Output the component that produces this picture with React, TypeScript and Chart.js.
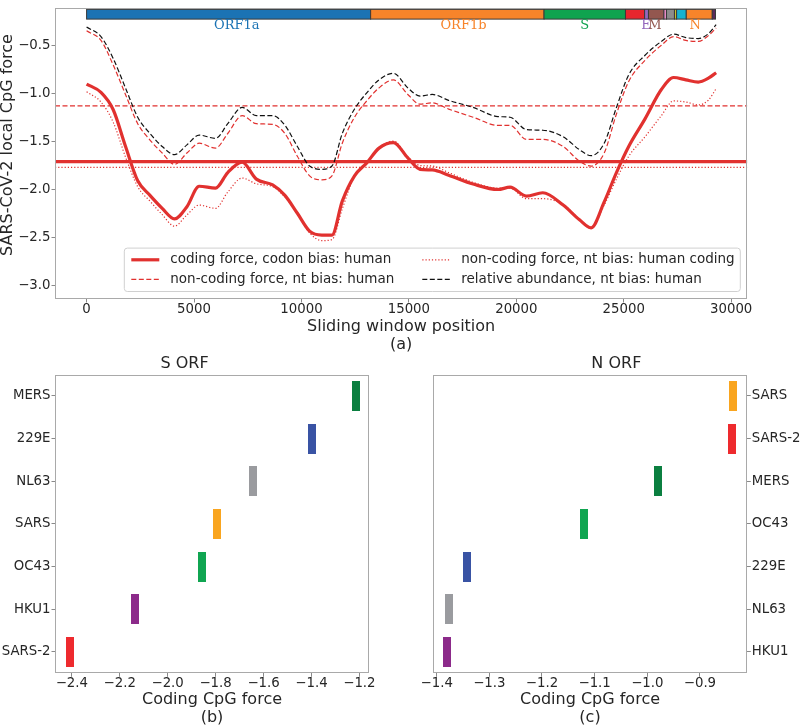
import React, { useEffect, useRef } from 'react';
import { Chart, registerables } from 'chart.js';

Chart.register(...registerables);

const SANS = "'DejaVu Sans', 'Noto Sans', sans-serif";
const SERIF = "'DejaVu Serif', 'Liberation Serif', serif";
const TEXT = '#262626';
const FRAME = '#a9a9a9';
const TICK = '#8a8a8a';
const RED = '#e1312f';

// ---------- panel (a) data ----------
const windowPositions = [
  0, 670, 1240, 1810, 2380, 2950, 3520, 4090, 4670, 5240,
  6000, 6570, 7240, 7900, 8660, 9230, 9810, 10380, 10950, 11420,
  11900, 12470, 13040, 13610, 14280, 14950, 15520, 16090, 16850, 17990,
  19140, 19710, 20470, 21230, 22180, 22940, 23480, 24090, 24660, 25230,
  25990, 26750, 27320, 27890, 28470, 28940, 29300,
];
const codingForce = [
  -0.903, -0.99, -1.17, -1.55, -1.908, -2.06, -2.195, -2.304, -2.178, -1.965,
  -1.985, -1.823, -1.715, -1.891, -1.952, -2.06, -2.246, -2.432, -2.473, -2.473,
  -2.12, -1.857, -1.722, -1.569, -1.512, -1.671, -1.789, -1.796, -1.85, -1.942,
  -1.999, -1.975, -2.067, -2.033, -2.161, -2.314, -2.398, -2.128, -1.823, -1.552,
  -1.265, -0.96, -0.835, -0.859, -0.882, -0.842, -0.785,
];
const nonCodingHuman = [
  -0.35, -0.45, -0.706, -1.011, -1.315, -1.485, -1.62, -1.738, -1.62, -1.518,
  -1.569, -1.417, -1.231, -1.315, -1.322, -1.417, -1.654, -1.857, -1.898, -1.857,
  -1.518, -1.248, -1.078, -0.943, -0.859, -1.011, -1.112, -1.099, -1.163, -1.248,
  -1.332, -1.332, -1.478, -1.478, -1.552, -1.705, -1.755, -1.62, -1.214, -0.876,
  -0.656, -0.5, -0.41, -0.45, -0.46, -0.4, -0.32,
];
const nonCodingHumanCoding = [
  -0.984, -1.09, -1.3, -1.66, -1.97, -2.12, -2.26, -2.38, -2.263, -2.161,
  -2.195, -2.026, -1.88, -1.94, -1.97, -2.077, -2.25, -2.45, -2.53, -2.52,
  -2.2, -1.86, -1.728, -1.569, -1.495, -1.661, -1.749, -1.755, -1.823, -1.925,
  -1.985, -1.985, -2.094, -2.094, -2.155, -2.31, -2.405, -2.161, -1.891, -1.654,
  -1.45, -1.231, -1.078, -1.09, -1.12, -1.07, -0.95,
];
const relativeAbundance = [
  -0.31, -0.41, -0.638, -0.943, -1.248, -1.417, -1.552, -1.637, -1.535, -1.434,
  -1.468, -1.315, -1.146, -1.231, -1.231, -1.332, -1.552, -1.755, -1.789, -1.755,
  -1.417, -1.163, -0.994, -0.859, -0.791, -0.943, -1.028, -1.011, -1.072, -1.146,
  -1.241, -1.248, -1.376, -1.383, -1.451, -1.586, -1.647, -1.518, -1.146, -0.808,
  -0.604, -0.46, -0.385, -0.42, -0.43, -0.38, -0.285,
];
const meanCoding = -1.71;
const meanNonCodingHuman = -1.13;
const meanNonCodingHumanCoding = -1.77;

const seriesLabels = [
  'coding force, codon bias: human',
  'non-coding force, nt bias: human',
  'non-coding force, nt bias: human coding',
  'relative abundance, nt bias: human',
];

const topXTicks = [0, 5000, 10000, 15000, 20000, 25000, 30000];
const topYTicks = [-3.0, -2.5, -2.0, -1.5, -1.0, -0.5];
const TOP_X_MIN = -1470;
const TOP_X_MAX = 30750;
const TOP_Y_MIN = -3.137;
const TOP_Y_MAX = -0.109;

// genome annotation bar
const geneStarts = [0, 13220, 21290, 25080, 25970, 26150, 26870, 26990, 27360, 27460, 27910, 29120];
const geneEnds = [13220, 21290, 25080, 25970, 26150, 26870, 26990, 27360, 27460, 27910, 29120, 29270];
const geneColors = [
  '#1b73b4', '#f7842a', '#0fa34f', '#e8262d', '#9467bd', '#93574f',
  '#e68ac4', '#8c8c8c', '#c6c22a', '#17b2cf', '#f7842a', '#5b2a5b',
];
const geneLabels = ['ORF1a', 'ORF1b', 'S', 'E', 'M', 'N'];
const geneLabelPos = [6990, 17540, 23180, 26030, 26450, 28320];
const geneLabelColors = ['#1b73b4', '#f7842a', '#0fa34f', '#9467bd', '#93574f', '#f7842a'];
const GENE_BAR_TOP = -0.127;
const GENE_BAR_BOTTOM = -0.228;
const GENE_LABEL_Y = -0.3;

// ---------- panels (b) and (c) ----------
const sOrfViruses = ['MERS', '229E', 'NL63', 'SARS', 'OC43', 'HKU1', 'SARS-2'];
const sOrfForce = [-1.216, -1.398, -1.643, -1.796, -1.856, -2.138, -2.408];
const nOrfViruses = ['SARS', 'SARS-2', 'MERS', 'OC43', '229E', 'NL63', 'HKU1'];
const nOrfForce = [-0.837, -0.84, -0.979, -1.1205, -1.342, -1.377, -1.38];
const virusColors: Record<string, string> = {
  MERS: '#0b7f40',
  '229E': '#3953a4',
  NL63: '#9a9b9f',
  SARS: '#f9a51f',
  OC43: '#10a551',
  HKU1: '#8c2a8a',
  'SARS-2': '#ee2a2e',
};
const sXTicks = [-2.4, -2.2, -2.0, -1.8, -1.6, -1.4, -1.2];
const nXTicks = [-1.4, -1.3, -1.2, -1.1, -1.0, -0.9];
const S_X_MIN = -2.47;
const S_X_MAX = -1.16;
const N_X_MIN = -1.4076;
const N_X_MAX = -0.81;

// ---------- helpers ----------
const fmtMinus = (v: number) => Number(v).toFixed(1).replace('-', '\u2212');
const tickFont = { family: SANS, size: 13.3, lineHeight: 1 };
const titleFont = { family: SANS, size: 16, lineHeight: 1.144 };

const toXY = (xs: number[], ys: number[]) => xs.map((x, i) => ({ x, y: ys[i] }));

const framePlugin = {
  id: 'frame',
  afterDraw(chart: any) {
    const { ctx, chartArea } = chart;
    ctx.save();
    ctx.strokeStyle = FRAME;
    ctx.lineWidth = 1;
    const l = Math.round(chartArea.left) + 0.5;
    const t = Math.round(chartArea.top) + 0.5;
    const r = Math.round(chartArea.right) - 0.5;
    const b = Math.round(chartArea.bottom) - 0.5;
    ctx.strokeRect(l, t, r - l, b - t);
    ctx.restore();
  },
};

const genomePlugin = {
  id: 'genome',
  afterDatasetsDraw(chart: any) {
    const { ctx } = chart;
    const xs = chart.scales.x;
    const ys = chart.scales.y;
    const yT = ys.getPixelForValue(GENE_BAR_TOP);
    const yB = ys.getPixelForValue(GENE_BAR_BOTTOM);
    ctx.save();
    geneStarts.forEach((s, i) => {
      const x1 = xs.getPixelForValue(s);
      const x2 = xs.getPixelForValue(geneEnds[i]);
      ctx.fillStyle = geneColors[i];
      ctx.fillRect(x1, yT, x2 - x1, yB - yT);
      ctx.strokeStyle = '#3a3a3a';
      ctx.lineWidth = 1;
      ctx.strokeRect(x1, yT, x2 - x1, yB - yT);
    });
    ctx.font = `13px ${SERIF}`;
    ctx.textAlign = 'center';
    ctx.textBaseline = 'middle';
    const ly = ys.getPixelForValue(GENE_LABEL_Y);
    geneLabels.forEach((g, i) => {
      ctx.fillStyle = geneLabelColors[i];
      ctx.fillText(g, xs.getPixelForValue(geneLabelPos[i]), ly);
    });
    ctx.restore();
  },
};

const legendPlugin = {
  id: 'innerLegend',
  afterDatasetsDraw(chart: any) {
    const { ctx, chartArea } = chart;
    const w = 616;
    const h = 43.4;
    const x0 = chartArea.right - 7 - w;
    const y0 = chartArea.bottom - 7.5 - h;
    ctx.save();
    const r = 3;
    ctx.beginPath();
    ctx.moveTo(x0 + r, y0);
    ctx.lineTo(x0 + w - r, y0);
    ctx.quadraticCurveTo(x0 + w, y0, x0 + w, y0 + r);
    ctx.lineTo(x0 + w, y0 + h - r);
    ctx.quadraticCurveTo(x0 + w, y0 + h, x0 + w - r, y0 + h);
    ctx.lineTo(x0 + r, y0 + h);
    ctx.quadraticCurveTo(x0, y0 + h, x0, y0 + h - r);
    ctx.lineTo(x0, y0 + r);
    ctx.quadraticCurveTo(x0, y0, x0 + r, y0);
    ctx.closePath();
    ctx.fillStyle = 'rgba(255,255,255,0.85)';
    ctx.fill();
    ctx.strokeStyle = '#d0d0d0';
    ctx.lineWidth = 1;
    ctx.stroke();
    const handleX = [7, 298];
    const textX = [46, 337];
    const rowY = [11.7, 31.2];
    ctx.font = `13.5px ${SANS}`;
    ctx.textBaseline = 'middle';
    ctx.textAlign = 'left';
    for (let i = 0; i < 4; i++) {
      const ds = chart.data.datasets[i];
      const col = Math.floor(i / 2);
      const row = i % 2;
      const y = y0 + rowY[row];
      ctx.strokeStyle = ds.borderColor;
      ctx.lineWidth = ds.borderWidth;
      ctx.setLineDash(ds.borderDash || []);
      ctx.beginPath();
      ctx.moveTo(x0 + handleX[col], y);
      ctx.lineTo(x0 + handleX[col] + 28, y);
      ctx.stroke();
      ctx.setLineDash([]);
      ctx.fillStyle = TEXT;
      ctx.fillText(ds.label, x0 + textX[col], y);
    }
    ctx.restore();
  },
};

const topYTitlePlugin = {
  id: 'topYTitle',
  afterDraw(chart: any) {
    const { ctx, chartArea } = chart;
    ctx.save();
    ctx.translate(8, (chartArea.top + chartArea.bottom) / 2 - 8.3);
    ctx.rotate(-Math.PI / 2);
    ctx.font = `16px ${SANS}`;
    ctx.fillStyle = TEXT;
    ctx.textAlign = 'center';
    ctx.textBaseline = 'middle';
    ctx.fillText('SARS-CoV-2 local CpG force', 0, 0);
    ctx.restore();
  },
};

function lineDs(label: string, ys: number[], color: string, width: number, dash: number[]) {
  return {
    label,
    data: toXY(windowPositions, ys),
    borderColor: color,
    borderWidth: width,
    borderDash: dash,
    pointRadius: 0,
    fill: false,
    cubicInterpolationMode: 'monotone',
  };
}

function hlineDs(label: string, v: number, width: number, dash: number[]) {
  return {
    label,
    data: [{ x: TOP_X_MIN, y: v }, { x: TOP_X_MAX, y: v }],
    borderColor: RED,
    borderWidth: width,
    borderDash: dash,
    pointRadius: 0,
    fill: false,
  };
}

function topConfig(): any {
  return {
    type: 'line',
    data: {
      datasets: [
        lineDs(seriesLabels[0], codingForce, RED, 3.2, []),
        lineDs(seriesLabels[1], nonCodingHuman, RED, 1.2, [5, 2.5]),
        lineDs(seriesLabels[2], nonCodingHumanCoding, RED, 1.2, [1.2, 2]),
        lineDs(seriesLabels[3], relativeAbundance, '#111111', 1.2, [5, 2.5]),
        hlineDs('mean coding', meanCoding, 3.2, []),
        hlineDs('mean non-coding human', meanNonCodingHuman, 1.2, [5, 2.5]),
        hlineDs('mean non-coding human coding', meanNonCodingHumanCoding, 1.2, [1.2, 2]),
      ],
    },
    options: {
      animation: false,
      responsive: false,
      devicePixelRatio: 1,
      layout: { padding: { left: 0, right: 52.7, top: 1, bottom: 5.85 } },
      plugins: { legend: { display: false }, tooltip: { enabled: false }, title: { display: false } },
      scales: {
        x: {
          type: 'linear',
          min: TOP_X_MIN,
          max: TOP_X_MAX,
          afterBuildTicks: (s: any) => { s.ticks = topXTicks.map((v) => ({ value: v })); },
          afterFit: (s: any) => { s.height = 55.15; },
          ticks: { font: tickFont, color: TEXT, padding: 0, maxRotation: 0, autoSkip: false, callback: (v: any) => String(v) },
          grid: { drawOnChartArea: false, drawTicks: true, tickLength: 3.5, color: TICK },
          border: { display: false },
          title: { display: true, text: ['Sliding window position', '(a)'], font: titleFont, color: TEXT, padding: 0 },
        },
        y: {
          type: 'linear',
          min: TOP_Y_MIN,
          max: TOP_Y_MAX,
          afterBuildTicks: (s: any) => { s.ticks = topYTicks.map((v) => ({ value: v })); },
          afterFit: (s: any) => { s.width = 55; },
          ticks: { font: tickFont, color: TEXT, padding: 1, callback: (v: any) => fmtMinus(v) },
          grid: { drawOnChartArea: false, drawTicks: true, tickLength: 3.5, color: TICK },
          border: { display: false },
          title: { display: false },
        },
      },
    },
    plugins: [genomePlugin, legendPlugin, framePlugin, topYTitlePlugin],
  };
}

function barImage(color: string) {
  const c = document.createElement('canvas');
  c.width = 8;
  c.height = 30;
  const g = c.getContext('2d')!;
  g.fillStyle = color;
  g.fillRect(0, 0, 8, 30);
  return c;
}

function bottomConfig(
  viruses: string[], values: number[], side: 'left' | 'right',
  xMin: number, xMax: number, xTicks: number[], title: string, sub: string,
): any {
  return {
    type: 'scatter',
    data: {
      datasets: [{
        label: title,
        data: viruses.map((v, i) => ({ x: values[i], y: v })),
        pointStyle: viruses.map((v) => barImage(virusColors[v])),
        pointRadius: 4,
        pointHoverRadius: 4,
      }],
    },
    options: {
      animation: false,
      responsive: false,
      devicePixelRatio: 1,
      layout: {
        padding: side === 'left'
          ? { left: 0, right: 31, top: 0, bottom: 8.55 }
          : { left: 32.7, right: 0, top: 0, bottom: 8.55 },
      },
      plugins: {
        legend: { display: false },
        tooltip: { enabled: false },
        title: {
          display: true,
          text: title,
          font: { family: SANS, size: 16, lineHeight: 1.2, weight: 'normal' },
          color: TEXT,
          padding: { top: 8.4, bottom: 0.9 },
        },
      },
      scales: {
        x: {
          type: 'linear',
          min: xMin,
          max: xMax,
          afterBuildTicks: (s: any) => { s.ticks = xTicks.map((v) => ({ value: v })); },
          afterFit: (s: any) => { s.height = 54.15; },
          ticks: { font: tickFont, color: TEXT, padding: 0, maxRotation: 0, autoSkip: false, callback: (v: any) => fmtMinus(v) },
          grid: { drawOnChartArea: false, drawTicks: true, tickLength: 3.5, color: TICK },
          border: { display: false },
          title: { display: true, text: ['Coding CpG force', sub], font: titleFont, color: TEXT, padding: 0 },
        },
        y: {
          type: 'category',
          labels: viruses,
          offset: true,
          position: side,
          afterFit: (s: any) => { s.width = side === 'left' ? 55 : 52.7; },
          ticks: { font: tickFont, color: TEXT, padding: 1, autoSkip: false },
          grid: { drawOnChartArea: false, drawTicks: true, tickLength: 3.5, color: TICK, offset: false },
          border: { display: false },
        },
      },
    },
    plugins: [framePlugin],
  };
}

export default function App() {
  const topRef = useRef<HTMLCanvasElement>(null);
  const sRef = useRef<HTMLCanvasElement>(null);
  const nRef = useRef<HTMLCanvasElement>(null);

  useEffect(() => {
    const charts = [
      new Chart(topRef.current!, topConfig()),
      new Chart(sRef.current!, bottomConfig(sOrfViruses, sOrfForce, 'left', S_X_MIN, S_X_MAX, sXTicks, 'S ORF', '(b)')),
      new Chart(nRef.current!, bottomConfig(nOrfViruses, nOrfForce, 'right', N_X_MIN, N_X_MAX, nXTicks, 'N ORF', '(c)')),
    ];
    return () => charts.forEach((c) => c.destroy());
  }, []);

  return (
    <div style={{ position: 'absolute', left: 0, top: 0, width: 800, height: 726, overflow: 'hidden', background: '#ffffff' }}>
      <canvas ref={topRef} width={800} height={360} style={{ position: 'absolute', left: 0, top: 0, width: 800, height: 360, display: 'block' }} />
      <canvas ref={sRef} width={400} height={390} style={{ position: 'absolute', left: 0, top: 346, width: 400, height: 390, display: 'block' }} />
      <canvas ref={nRef} width={400} height={390} style={{ position: 'absolute', left: 400, top: 346, width: 400, height: 390, display: 'block' }} />
    </div>
  );
}
